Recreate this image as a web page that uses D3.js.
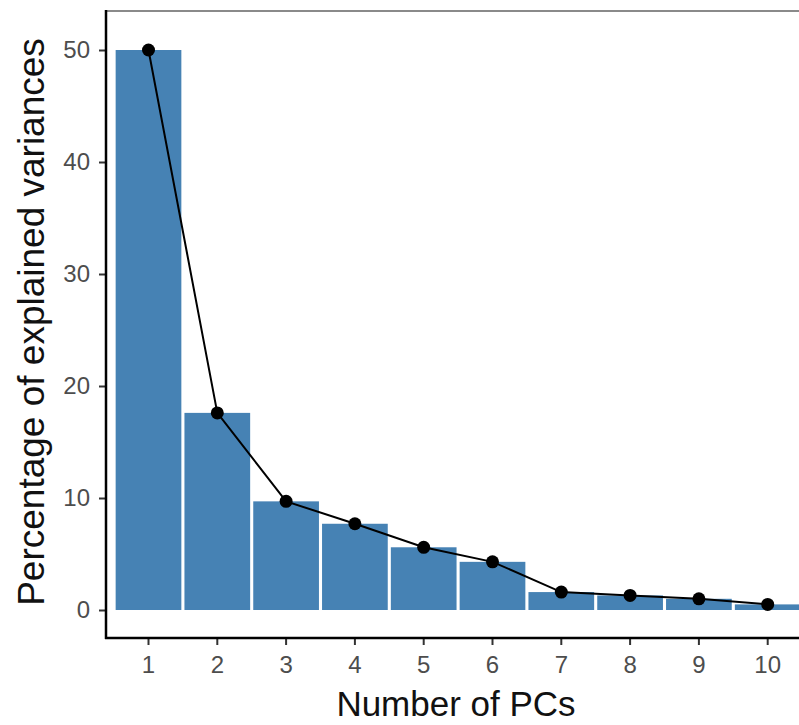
<!DOCTYPE html>
<html>
<head>
<meta charset="utf-8">
<script src="https://cdn.jsdelivr.net/npm/d3@7"></script>
<style>
  html, body { margin: 0; padding: 0; background: #fff; }
  svg { display: block; }
</style>
</head>
<body>
<svg id="chart" width="799" height="725"></svg>
<script>
const categories = ["1", "2", "3", "4", "5", "6", "7", "8", "9", "10"];
const variances = [50.0, 17.6, 9.7, 7.7, 5.6, 4.3, 1.6, 1.3, 1.0, 0.5];
const yTicks = [0, 10, 20, 30, 40, 50];

const svg = d3.select("#chart");
const mLeft = 106, mTop = 11, mBottom = 638;
const fontFam = "Liberation Sans, Arial, Helvetica, sans-serif";

const x = d3.scaleBand().domain(categories).range([114.1, 802.1])
  .paddingInner(0.045).paddingOuter(0.0225);
const y = d3.scaleLinear().domain([0, 50]).range([610, 50]);

// top border
svg.append("line").attr("x1", mLeft).attr("x2", 799).attr("y1", mTop).attr("y2", mTop)
  .attr("stroke", "#8a8a8a").attr("stroke-width", 2);

// bars
svg.append("g").selectAll("rect").data(variances).join("rect")
  .attr("x", (d, i) => x(categories[i]))
  .attr("width", x.bandwidth())
  .attr("y", d => y(d))
  .attr("height", d => y(0) - y(d))
  .attr("fill", "#4682b4");

// line
const cx = (d, i) => x(categories[i]) + x.bandwidth() / 2;
const line = d3.line().x(cx).y(d => y(d));
svg.append("path").datum(variances).attr("d", line)
  .attr("fill", "none").attr("stroke", "#000").attr("stroke-width", 2);

svg.append("g").selectAll("circle").data(variances).join("circle")
  .attr("cx", cx)
  .attr("cy", d => y(d))
  .attr("r", 6.5).attr("fill", "#000");

// y axis
const yAxis = d3.axisLeft(y).tickValues(yTicks).tickSize(7).tickPadding(9);
const gy = svg.append("g").attr("transform", `translate(${mLeft},0)`).call(yAxis);
gy.select(".domain").remove();
gy.selectAll(".tick line").attr("stroke", "#333").attr("stroke-width", 2);
gy.selectAll(".tick text").attr("font-family", fontFam)
  .attr("font-size", 24).attr("fill", "#4d4d4d");
svg.append("line").attr("x1", mLeft).attr("x2", mLeft).attr("y1", mTop - 1).attr("y2", mBottom + 1)
  .attr("stroke", "#000").attr("stroke-width", 2.5);

// x axis
const xAxis = d3.axisBottom(x).tickSize(7).tickPadding(11);
const gx = svg.append("g").attr("transform", `translate(0,${mBottom})`).call(xAxis);
gx.select(".domain").remove();
gx.selectAll(".tick line").attr("stroke", "#333").attr("stroke-width", 2);
gx.selectAll(".tick text").attr("font-family", fontFam)
  .attr("font-size", 24).attr("fill", "#4d4d4d");
svg.append("line").attr("x1", mLeft - 1).attr("x2", 799).attr("y1", mBottom).attr("y2", mBottom)
  .attr("stroke", "#000").attr("stroke-width", 2.5);

// titles
svg.append("text").attr("x", 456).attr("y", 716).attr("text-anchor", "middle")
  .attr("font-family", fontFam).attr("font-size", 35).attr("fill", "#111")
  .text("Number of PCs");
svg.append("text").attr("transform", "translate(44,322) rotate(-90)").attr("text-anchor", "middle")
  .attr("font-family", fontFam).attr("font-size", 37).attr("fill", "#111")
  .text("Percentage of explained variances");
</script>
</body>
</html>
